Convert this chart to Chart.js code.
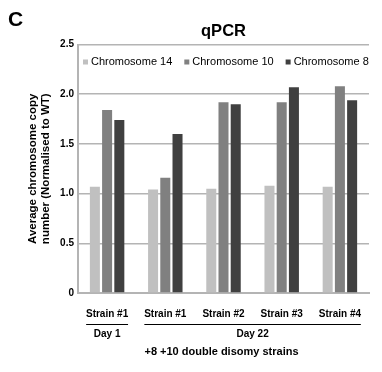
<!DOCTYPE html>
<html>
<head>
<meta charset="utf-8">
<script src="https://cdn.jsdelivr.net/npm/chart.js@4.4.0/dist/chart.umd.min.js"></script>
<style>
html, body { margin: 0; padding: 0; background: #fff; }
</style>
</head>
<body>
<canvas id="barChart" width="382" height="372"></canvas>
<script>
const strains = ['Strain #1', 'Strain #1', 'Strain #2', 'Strain #3', 'Strain #4'];
const chr14 = [1.07, 1.04, 1.05, 1.08, 1.07];
const chr10 = [1.84, 1.16, 1.92, 1.92, 2.08];
const chr8 = [1.74, 1.60, 1.90, 2.07, 1.94];
const dayGroups = [
    { label: 'Day 1', from: 0, to: 0 },
    { label: 'Day 22', from: 1, to: 4 }
];
const yTicks = [0, 0.5, 1.0, 1.5, 2.0, 2.5];

const FONT = "'Liberation Sans', Arial, Helvetica, sans-serif";
const GRID = '#b4b4b4';

// extra text: panel letter, title, y title, legend, day groups
const decorations = {
    id: 'decorations',
    afterDraw(chart) {
        const ctx = chart.ctx;
        const area = chart.chartArea;
        const x = chart.scales.x;
        ctx.save();
        ctx.fillStyle = '#000';
        ctx.textBaseline = 'middle';

        ctx.font = 'bold 21px ' + FONT;
        ctx.textAlign = 'left';
        ctx.fillText('C', 8, 20);

        ctx.font = 'bold 16.5px ' + FONT;
        ctx.textAlign = 'center';
        ctx.fillText('qPCR', (area.left + area.right) / 2, 31);

        // y title
        ctx.save();
        ctx.translate(39, (area.top + area.bottom) / 2);
        ctx.rotate(-Math.PI / 2);
        ctx.font = 'bold 11.5px ' + FONT;
        ctx.fillText('Average chromosome copy', 0, -6);
        ctx.fillText('number (Normalised to WT)', 0, 7);
        ctx.restore();

        // legend inside the plot
        ctx.font = '11px ' + FONT;
        ctx.textAlign = 'left';
        let lx = area.left + 5;
        const ly = 62;
        chart.data.datasets.forEach(ds => {
            ctx.fillStyle = ds.backgroundColor;
            ctx.fillRect(lx, ly - 2.5, 5, 5);
            ctx.fillStyle = '#000';
            ctx.fillText(ds.label, lx + 8, ly);
            lx += 8 + ctx.measureText(ds.label).width + 12;
        });

        // day groups
        const half = (x.getPixelForValue(1) - x.getPixelForValue(0)) * 0.36;
        ctx.strokeStyle = '#000';
        ctx.lineWidth = 1;
        ctx.font = 'bold 10px ' + FONT;
        ctx.textAlign = 'center';
        dayGroups.forEach(g => {
            const x0 = x.getPixelForValue(g.from) - half;
            const x1 = x.getPixelForValue(g.to) + half;
            ctx.beginPath();
            ctx.moveTo(x0, 324.5);
            ctx.lineTo(x1, 324.5);
            ctx.stroke();
            ctx.fillText(g.label, (x0 + x1) / 2, 334);
        });

        ctx.font = 'bold 11px ' + FONT;
        ctx.fillText('+8 +10 double disomy strains', (area.left + area.right) / 2 - 2, 352);
        ctx.restore();
    }
};

let barChart;

function setupBarChart() {
    let barCtx = document.getElementById('barChart').getContext('2d');
    barChart = new Chart(barCtx, {
        type: 'bar',
        data: {
            labels: strains,
            datasets: [{
                label: 'Chromosome 14',
                data: chr14,
                backgroundColor: '#c0c0c0'
            },
            {
                label: 'Chromosome 10',
                data: chr10,
                backgroundColor: '#808080'
            },
            {
                label: 'Chromosome 8',
                data: chr8,
                backgroundColor: '#404040'
            }]
        },
        options: {
            responsive: false,
            animation: false,
            categoryPercentage: 0.63,
            barPercentage: 0.82,
            layout: {
                padding: { top: 44.5, right: 13, left: 0, bottom: 0 }
            },
            plugins: {
                legend: { display: false },
                title: { display: false },
                tooltip: { enabled: false }
            },
            scales: {
                x: {
                    grid: { display: false, drawTicks: false },
                    border: { color: GRID, width: 2 },
                    ticks: {
                        color: '#000',
                        padding: 15,
                        maxRotation: 0,
                        font: { family: FONT, size: 10, weight: 'bold' }
                    },
                    afterFit: function (scale) { scale.height = 79; }
                },
                y: {
                    min: 0,
                    max: 2.5,
                    afterBuildTicks: function (scale) {
                        scale.ticks = yTicks.map(v => ({ value: v }));
                    },
                    grid: { color: GRID, lineWidth: 1.5, drawTicks: false },
                    border: { color: GRID, width: 2 },
                    ticks: {
                        color: '#000',
                        padding: 4,
                        font: { family: FONT, size: 10, weight: 'bold' },
                        callback: v => v === 0 ? '0' : v.toFixed(1)
                    },
                    afterFit: function (scale) { scale.width = 78; }
                }
            }
        },
        plugins: [decorations]
    });
}

setupBarChart();
</script>
</body>
</html>
